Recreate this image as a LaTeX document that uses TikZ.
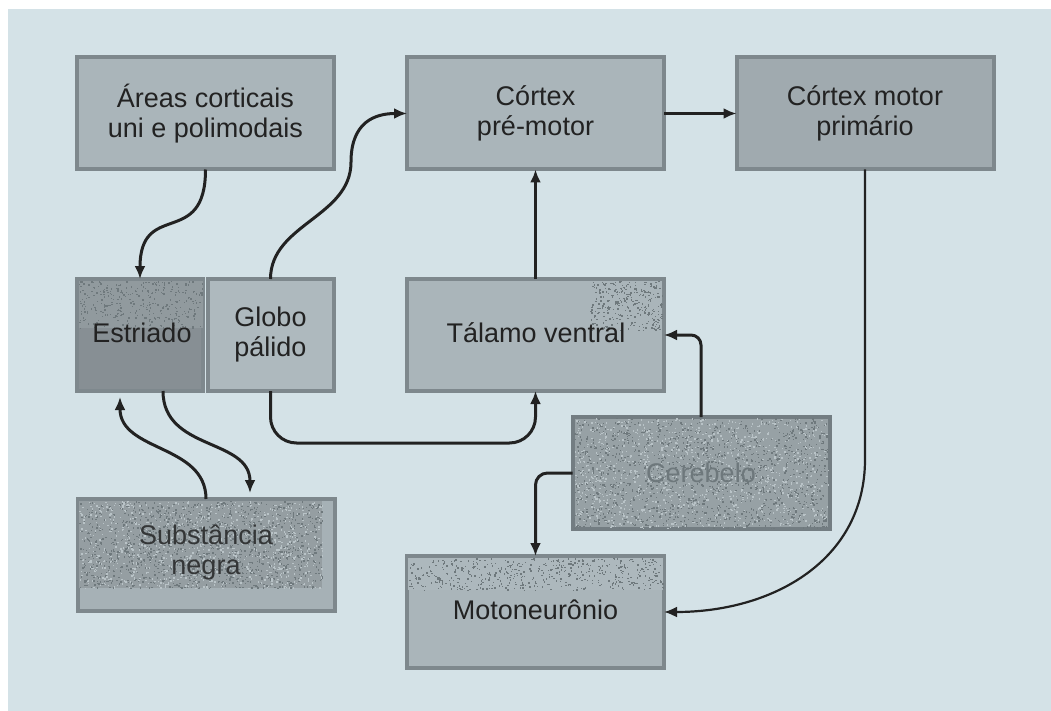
\documentclass[tikz,border=0pt]{standalone}
\usepackage{fontspec}
\setmainfont{Liberation Sans}
\usetikzlibrary{arrows.meta,calc}

\definecolor{bg}{HTML}{D4E2E7}
\definecolor{boxfill}{HTML}{AAB5BA}
\definecolor{boxedge}{HTML}{7E888D}
\definecolor{darkfill}{HTML}{878F94}
\definecolor{lightfill}{HTML}{AEB9BE}
\definecolor{motorfill}{HTML}{A0AAAF}
\definecolor{grainfill}{HTML}{97A1A5}
\definecolor{grainedge}{HTML}{737D82}
\definecolor{ink}{HTML}{222222}
\definecolor{faint}{HTML}{6E787C}
\definecolor{speckdark}{HTML}{6F797D}
\definecolor{specklight}{HTML}{B9C3C7}

% scatter small specks inside a rectangle: x1 y1 x2 y2 count colour
\newcommand\speckle[6]{%
  \foreach \k in {1,...,#5}{%
    \pgfmathsetmacro\gx{#1+rnd*(#3-#1)}%
    \pgfmathsetmacro\gy{#2+rnd*(#4-#2)}%
    \fill[#6] (\gx,\gy) rectangle ++(1.4,1.4);
  }}

\tikzset{
  box/.style={draw=boxedge, line width=4pt, fill=boxfill, text=ink,
    minimum width=257pt, minimum height=112pt, align=center,
    inner sep=0pt, outer sep=0pt,
    font=\fontsize{27}{30}\selectfont},
  half/.style={box, minimum width=126pt},
  label/.style={text=ink, align=center, font=\fontsize{27}{30}\selectfont},
  link/.style={draw=ink, line width=3pt, -{Latex[length=13pt,width=11pt]}},
  thinlink/.style={draw=ink, line width=2.2pt, -{Latex[length=13pt,width=11pt]}}
}

\begin{document}
\begin{tikzpicture}[x=1pt,y=-1pt]
  \pgfmathsetseed{11}
  \useasboundingbox (0,0) rectangle (1051,711);
  \fill[white] (0,0) rectangle (1051,711);
  \fill[bg] (8,9) rectangle (1051,711);

  % top row
  \node[box] (areas) at (205.5,113.5) {Áreas corticais\\uni e polimodais};
  \node[box] (premotor) at (535.5,113.5) {Córtex\\pré-motor};
  \node[box, fill=motorfill] (primario) at (865,113.5) {Córtex motor\\primário};

  % basal ganglia pair and thalamus
  \node[half, fill=darkfill] (estriado) at (140,335) {};
  \fill[grainfill!60!darkfill] (79,281) rectangle (203,328);
  \speckle{79}{281}{203}{328}{350}{speckdark}
  \node[label] (estriadotxt) at (142,333) {Estriado};
  \node[half, fill=lightfill] (globo) at (270.5,335) {Globo\\pálido};
  \node[box] (talamo) at (535.5,335) {};
  \speckle{590}{281}{662}{330}{300}{speckdark}
  \node[label] (talamotxt) at (536,333) {Tálamo ventral};

  % cerebellum
  \node[box, draw=grainedge, fill=grainfill] (cerebelo) at (701,473) {};
  \speckle{574}{418}{828}{528}{1400}{speckdark}
  \speckle{574}{418}{828}{528}{1100}{specklight}
  \node[label, text=faint] (cerebelotxt) at (701,473) {Cerebelo};

  % substantia nigra
  \node[box, fill=boxfill!90!darkfill] (substancia) at (206,555) {};
  \fill[grainfill!85!darkfill] (79,501) rectangle (322,588);
  \speckle{79}{501}{322}{588}{1300}{speckdark}
  \speckle{79}{501}{322}{588}{900}{specklight}
  \node[label, text=ink!80!boxedge] (substanciatxt) at (206,552) {Substância\\negra};

  % motor neuron
  \node[box] (motoneuronio) at (535.5,612) {};
  \fill[boxfill!80!specklight] (408,558) rectangle (663,590);
  \speckle{408}{558}{663}{590}{500}{speckdark}
  \node[label] (motoneuroniotxt) at (535.5,610) {Motoneurônio};

  % connections
  \coordinate (bend) at (351,162);
  \path[link] (areas.south) .. controls +(0,80) and +(0,-80) .. (estriado.north);
  \path[link, -] (globo.north) .. controls +(0,-55) and +(0,55) .. (bend);
  \path[link] (bend) .. controls +(0,-40) and +(-32,0) .. (premotor.west);
  \path[link] (premotor.east) -- (primario.west);
  \path[link] (talamo.north) -- (premotor.south);
  \path[link, rounded corners=26pt] (globo.south) -- ++(0,52) -| (talamo.south);
  \path[link] ($(estriado.south)+(23,0)$) .. controls +(0,60) and +(0,-55) .. ($(substancia.north)+(44,-6)$);
  \path[link] (substancia.north) .. controls +(0,-55) and +(0,55) .. ($(estriado.south)+(-20,6)$);
  \path[link, rounded corners=10pt] (cerebelo.north) |- (talamo.east);
  \path[link, rounded corners=12pt] (cerebelo.west) -| (motoneuronio.north);
  \path[thinlink] (primario.south) -- ++(0,290) .. controls +(0,100) and +(110,0) .. (motoneuronio.east);
\end{tikzpicture}
\end{document}
